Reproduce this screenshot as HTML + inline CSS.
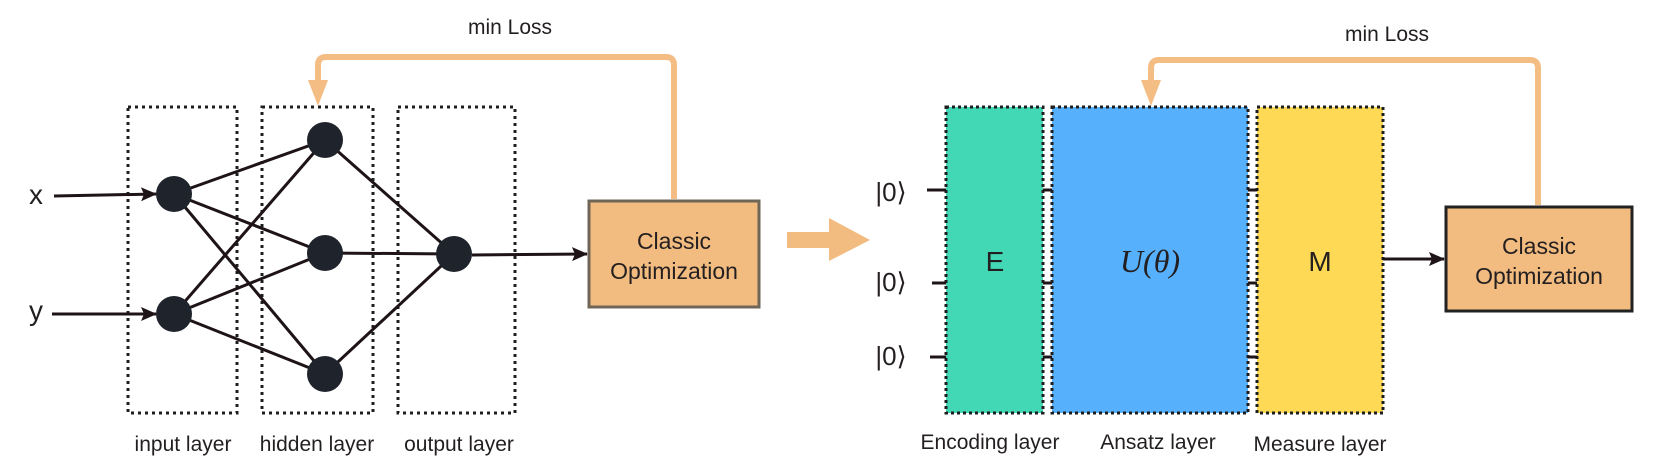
<!DOCTYPE html>
<html><head><meta charset="utf-8"><style>
html,body{margin:0;padding:0;background:#fff;}
svg{display:block;}
text{font-family:"Liberation Sans",sans-serif;fill:#231f20;}
</style></head><body>
<svg width="1661" height="472" viewBox="0 0 1661 472" xmlns="http://www.w3.org/2000/svg">
<defs>
<marker id="ah" markerWidth="16" markerHeight="14" refX="15" refY="7" orient="auto" markerUnits="userSpaceOnUse">
<path d="M0,0 L16,7 L0,14 L3,7 Z" fill="#1e1418"/></marker>
</defs>
<g fill="none" stroke="#1e1e1e" stroke-width="3" stroke-dasharray="3,4">
<rect x="128" y="107" width="109" height="306"/>
<rect x="262" y="107" width="111" height="306"/>
<rect x="398" y="107" width="117" height="306"/>
</g>
<g stroke="#1e1418" stroke-width="3">
<line x1="174" y1="194" x2="325" y2="140"/>
<line x1="174" y1="194" x2="325" y2="253"/>
<line x1="174" y1="194" x2="325" y2="374"/>
<line x1="174" y1="314" x2="325" y2="140"/>
<line x1="174" y1="314" x2="325" y2="253"/>
<line x1="174" y1="314" x2="325" y2="374"/>
<line x1="325" y1="140" x2="454" y2="254"/>
<line x1="325" y1="253" x2="454" y2="254"/>
<line x1="325" y1="374" x2="454" y2="254"/>
<line x1="54" y1="196" x2="156" y2="194" marker-end="url(#ah)"/>
<line x1="52" y1="314" x2="156" y2="314" marker-end="url(#ah)"/>
<line x1="472" y1="255" x2="587" y2="254" marker-end="url(#ah)"/>
</g>
<g fill="#1f232b">
<circle cx="174" cy="194" r="18"/><circle cx="174" cy="314" r="18"/>
<circle cx="325" cy="140" r="18"/><circle cx="325" cy="253" r="18"/><circle cx="325" cy="374" r="18"/>
<circle cx="454" cy="254" r="18"/>
</g>
<text x="36" y="204" font-size="28" text-anchor="middle">x</text>
<text x="36" y="320" font-size="28" text-anchor="middle">y</text>
<rect x="589" y="201" width="170" height="106" fill="#f2bb80" stroke="#706657" stroke-width="3"/>
<text x="674" y="249" font-size="23" text-anchor="middle">Classic</text>
<text x="674" y="279" font-size="23" text-anchor="middle">Optimization</text>
<path d="M674,199 V65 Q674,57 666,57 H326 Q318,57 318,65 V88" fill="none" stroke="#f3bd83" stroke-width="6"/>
<path d="M308,80 L328,80 L318,106 Z" fill="#f3bd83"/>
<text x="510" y="34" font-size="21" text-anchor="middle">min Loss</text>
<text x="183" y="451" font-size="21" text-anchor="middle">input layer</text>
<text x="317" y="451" font-size="21" text-anchor="middle">hidden layer</text>
<text x="459" y="451" font-size="21" text-anchor="middle">output layer</text>
<path d="M787,232 H829 V218 L870,240 L829,261 V248 H787 Z" fill="#f2bb80"/>
<rect x="946" y="107" width="97" height="306" fill="#42d8b6"/>
<rect x="1052" y="107" width="196" height="306" fill="#56b0fb"/>
<rect x="1257" y="107" width="126" height="306" fill="#fed955"/>
<g fill="none" stroke="#1e1e1e" stroke-width="3" stroke-dasharray="3,3">
<rect x="946" y="107" width="97" height="306"/>
<rect x="1052" y="107" width="196" height="306"/>
<rect x="1257" y="107" width="126" height="306"/>
</g>
<g stroke="#1e1418" stroke-width="3">
<line x1="927" y1="190" x2="946" y2="190"/>
<line x1="932" y1="283" x2="946" y2="283"/>
<line x1="930" y1="357" x2="946" y2="357"/>
<line x1="1043" y1="190" x2="1052" y2="190"/>
<line x1="1043" y1="283" x2="1052" y2="283"/>
<line x1="1043" y1="357" x2="1052" y2="357"/>
<line x1="1248" y1="190" x2="1257" y2="190"/>
<line x1="1248" y1="283" x2="1257" y2="283"/>
<line x1="1248" y1="357" x2="1257" y2="357"/>
<line x1="1383" y1="259" x2="1444" y2="259" marker-end="url(#ah)"/>
</g>
<text x="891" y="201" font-size="26" text-anchor="middle">|0⟩</text>
<text x="891" y="291" font-size="26" text-anchor="middle">|0⟩</text>
<text x="891" y="365" font-size="26" text-anchor="middle">|0⟩</text>
<text x="995" y="271" font-size="28" text-anchor="middle">E</text>
<text x="1150" y="272" font-size="32" font-style="italic" text-anchor="middle" style="font-family:'Liberation Serif',serif">U(θ)</text>
<text x="1320" y="271" font-size="28" text-anchor="middle">M</text>
<rect x="1446" y="207" width="186" height="104" fill="#f2bb80" stroke="#222" stroke-width="3"/>
<text x="1539" y="254" font-size="23" text-anchor="middle">Classic</text>
<text x="1539" y="284" font-size="23" text-anchor="middle">Optimization</text>
<path d="M1538,205 V68 Q1538,60 1530,60 H1159 Q1151,60 1151,68 V88" fill="none" stroke="#f3bd83" stroke-width="6"/>
<path d="M1141,80 L1161,80 L1151,106 Z" fill="#f3bd83"/>
<text x="1387" y="41" font-size="21" text-anchor="middle">min Loss</text>
<text x="990" y="449" font-size="21" text-anchor="middle">Encoding layer</text>
<text x="1158" y="449" font-size="21" text-anchor="middle">Ansatz layer</text>
<text x="1320" y="451" font-size="21" text-anchor="middle">Measure layer</text>
</svg>
</body></html>
